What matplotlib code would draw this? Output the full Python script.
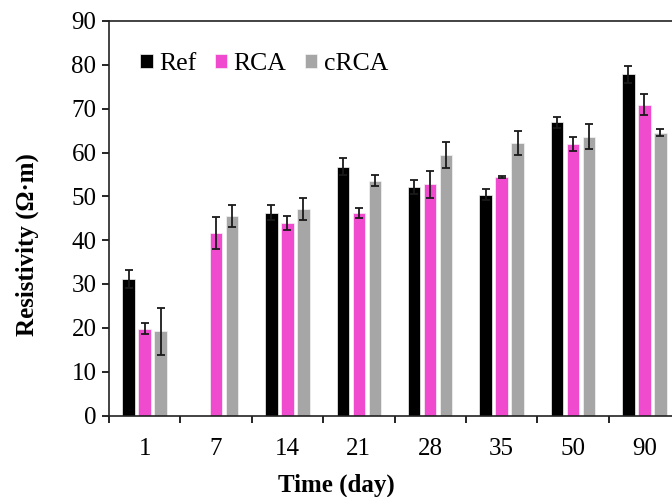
import matplotlib

matplotlib.use("Agg")
import matplotlib.pyplot as plt
import numpy as np

days = ["1", "7", "14", "21", "28", "35", "50", "90"]
series = ["Ref", "RCA", "cRCA"]
ref = [31.2, np.nan, 46.3, 56.8, 52.2, 50.4, 66.9, 77.8]
ref_err = [2.1, np.nan, 1.7, 1.9, 1.6, 1.2, 1.3, 2.0]
rca = [19.8, 41.6, 43.9, 46.2, 52.7, 54.4, 61.9, 70.9]
rca_err = [1.3, 3.7, 1.6, 1.2, 3.0, 0.3, 1.6, 2.4]
crca = [19.2, 45.5, 47.2, 53.6, 59.4, 62.2, 63.6, 64.5]
crca_err = [5.4, 2.6, 2.5, 1.2, 2.9, 2.8, 2.8, 0.8]
colors = ["#000000", "#F04BCE", "#A6A6A6"]

plt.rcParams["font.family"] = ["Liberation Serif", "DejaVu Serif"]
plt.rcParams["font.size"] = 18

fig = plt.figure(figsize=(6.72, 4.97), dpi=100)
ax = fig.add_axes([109 / 672, 1 - 415.5 / 497, 571 / 672, 394.5 / 497])

x = np.arange(len(days))
width = 0.175
offsets = [-0.224, 0.0, 0.224]
for vals, errs, off, col, name in zip(
    [ref, rca, crca], [ref_err, rca_err, crca_err], offsets, colors, series
):
    ax.bar(x + off, vals, width=width, color=col, edgecolor="#f4f4f4",
           linewidth=0.5, label=name, zorder=2)
    ax.errorbar(
        x + off, vals, yerr=errs, fmt="none", ecolor="#1a1a1a",
        elinewidth=1.3, capsize=3.2, capthick=1.3, zorder=3,
    )

ax.set_xlim(-0.5, len(days) - 0.5)
ax.set_ylim(0, 90)
ax.set_yticks(np.arange(0, 91, 10))
ax.set_xticks(np.arange(len(days) + 1) - 0.5)
ax.set_xticklabels([])
ax.set_xticks(x, minor=True)
ax.set_xticklabels(days, minor=True)
ax.tick_params(axis="x", which="major", direction="out", length=5, width=1.2)
ax.tick_params(axis="x", which="minor", length=0, pad=16)
ax.tick_params(axis="y", direction="out", length=5, width=1.2, pad=4)
for s in ax.spines.values():
    s.set_linewidth(1.2)
    s.set_color("#222222")

fig.text(27 / 672, 1 - 245 / 497, "Resistivity (Ω·m)", rotation=90,
         ha="center", va="center", fontweight="bold")
fig.text(336 / 672, 1 - 485 / 497, "Time (day)", ha="center", va="center",
         fontweight="bold")

fig.legend(
    loc="center left", bbox_to_anchor=(140 / 672, 1 - 64 / 497), ncol=3,
    frameon=False, handlelength=0.5, handleheight=0.5, handletextpad=0.25,
    columnspacing=0.7, borderpad=0, borderaxespad=0, fontsize=18.5,
)

fig.savefig("out.png", dpi=100)
